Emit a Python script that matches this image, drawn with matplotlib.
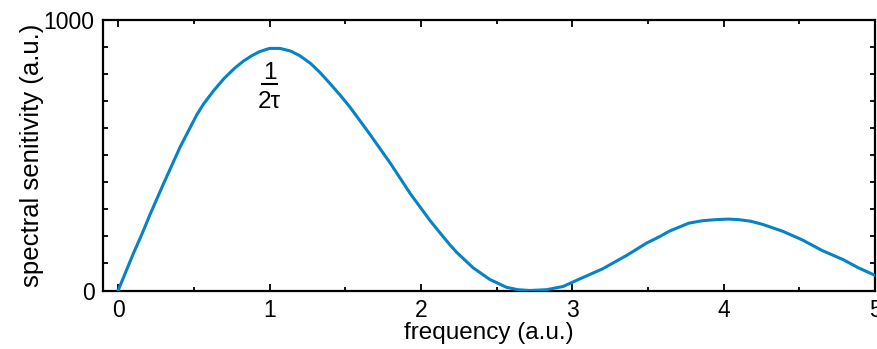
import matplotlib
matplotlib.use("Agg")
import matplotlib.pyplot as plt
from matplotlib.ticker import MultipleLocator, FixedLocator

plt.rcParams['font.family'] = ['Liberation Sans', 'DejaVu Sans']

# spectral sensitivity curve
freq = [0.0, 0.05, 0.10, 0.16, 0.21, 0.30, 0.41, 0.52, 0.565, 0.63, 0.70,
        0.77, 0.83, 0.88, 0.934, 1.00, 1.07, 1.14, 1.20, 1.27, 1.33,
        1.40, 1.47, 1.53, 1.66, 1.80, 1.93, 2.06, 2.125, 2.19, 2.235, 2.345,
        2.455, 2.565, 2.64, 2.72, 2.83, 2.94, 3.05, 3.20, 3.36, 3.49, 3.58,
        3.64, 3.77, 3.86, 3.95, 4.03, 4.10, 4.18, 4.26, 4.39, 4.52, 4.65,
        4.79, 4.89, 5.00]
sens = [0, 68, 136, 212, 280, 395, 531, 650, 690, 738, 784,
        822, 849, 867, 883, 895, 895, 885, 868, 840, 808,
        765, 720, 679, 580, 469, 358, 259, 214, 170, 142, 84,
        41, 12, 3, 0, 3, 15, 43, 80, 130, 175, 200,
        219, 249, 258, 262, 264, 262, 256, 244, 219, 187, 148,
        114, 84, 56]

xticks = [0, 1, 2, 3, 4, 5]
yticks = [0, 1000]

color = '#0683c4'

fig = plt.figure(figsize=(8.78, 3.49), dpi=100)
ax = fig.add_axes([0.1173, 0.1676, 0.8793, 0.7751])
ax.plot(freq, sens, color=color, lw=2.2, solid_capstyle='round',
        solid_joinstyle='round', zorder=3)

ax.set_xlim(-0.1, 5)
ax.set_ylim(0, 1000)

ax.xaxis.set_major_locator(FixedLocator(xticks))
ax.xaxis.set_minor_locator(MultipleLocator(0.5))
ax.yaxis.set_major_locator(FixedLocator(yticks))
ax.yaxis.set_minor_locator(MultipleLocator(100))

ax.tick_params(axis='both', which='both', direction='in', top=True, right=True,
               width=1.3, colors='black', labelsize=16.5)
ax.tick_params(axis='x', which='major', length=5, pad=6)
ax.tick_params(axis='x', which='minor', length=3)
ax.tick_params(axis='y', which='major', length=0, pad=6)
ax.tick_params(axis='y', which='minor', length=3.5)

for s in ax.spines.values():
    s.set_linewidth(1.6)

ax.set_xlabel('frequency (a.u.)', fontsize=17.5, labelpad=0)
ax.set_ylabel('spectral senitivity (a.u.)', fontsize=18.5, labelpad=0)

# peak annotation: 1 / 2τ
ax.text(1.0, 804, '1', ha='center', va='center', fontsize=17.5)
ax.plot([0.95, 1.05], [762, 762], color='black', lw=1.5)
ax.text(1.0, 698, '2τ', ha='center', va='center', fontsize=17.5)

fig.savefig('out.png', dpi=100)
